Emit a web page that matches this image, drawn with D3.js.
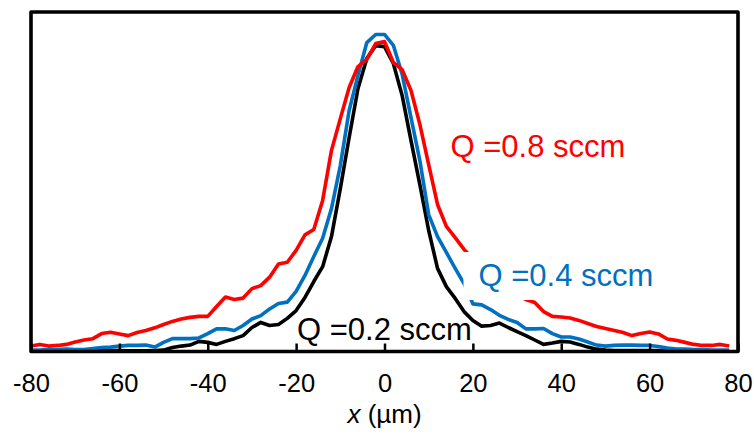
<!DOCTYPE html>
<html>
<head>
<meta charset="utf-8">
<script src="https://cdn.jsdelivr.net/npm/d3@7"></script>
<style>
  html, body { margin: 0; padding: 0; background: #fff; }
  svg { display: block; font-family: "Liberation Sans", Arial, sans-serif; }
</style>
</head>
<body>
<svg id="chart" width="754" height="434"></svg>
<script>
// ---- data ----
const xPositions = [-80,-78,-76,-74,-72,-70,-68,-66,-64,-62,-60,-58,-56,-54,-52,-50,-48,-46,-44,-42,
  -40,-38,-36,-34,-32,-30,-28,-26,-24,-22,-20,-18,-16,-14,-12,-10,-8,-6,-4,-2,
  0,2,4,6,8,10,12,14,16,18,20,22,24,26,28,30,32,34,36,38,
  40,42,44,46,48,50,52,54,56,58,60,62,64,66,68,70,72,74,76,78];

const q08 = [1.6,2.1,1.6,1.8,2.1,2.8,3.4,3.8,5.3,5.7,5.2,4.7,5.6,6.2,7.0,8.0,8.9,9.6,10.1,10.4,
  10.4,13.3,16.1,15.4,15.8,18.6,19.5,22.0,25.9,26.4,29.9,34.5,36.1,44.7,59.5,68.9,78.1,84.3,86.4,91.1,
  91.7,85.5,83.4,77.2,67.2,55.3,43.5,37.0,33.7,30.2,27.5,24.6,22.2,20.1,18.0,16.6,15.4,14.5,11.8,10.4,
  10.2,9.9,9.2,8.3,7.4,6.8,6.2,5.6,4.7,5.3,5.8,5.2,3.7,3.3,2.7,2.1,1.8,1.8,2.1,1.6];

const q04 = [0.4,0.4,0.6,0.6,0.7,0.6,0.6,0.9,1.2,1.3,1.6,1.8,1.8,1.9,1.3,2.7,3.8,3.8,3.8,4.0,
  5.3,6.7,6.7,6.2,7.7,9.6,10.6,12.6,14.2,14.6,17.8,22.5,28.1,33.5,42.3,55.0,71.3,81.7,91.4,93.8,
  93.8,90.6,82.0,69.2,56.5,40.5,34.0,29.3,24.6,20.1,14.1,13.8,12.4,10.7,9.5,8.6,6.7,6.7,6.8,5.3,
  4.3,4.3,3.7,2.8,1.9,1.6,1.8,1.9,1.9,1.8,1.8,1.5,1.0,0.7,0.7,0.6,0.6,0.4,0.4,0.4];

const q02 = [0.2,0.2,0.2,0.2,0.2,0.2,0.3,0.3,0.3,0.3,0.3,0.2,0.2,0.2,0.3,0.4,1.2,1.6,1.9,3.0,
  2.7,2.1,3.0,3.8,4.7,7.1,8.6,7.7,8.0,9.8,12.1,16.0,20.7,25.1,34.0,48.2,63.3,77.8,86.7,90.5,
  90.2,85.2,75.7,62.4,49.4,35.8,24.6,19.2,15.7,11.8,9.2,7.5,7.7,8.4,7.1,5.9,4.7,3.4,2.1,2.5,
  3.0,2.8,2.1,1.3,0.7,0.4,0.3,0.3,0.3,0.3,0.3,0.3,0.2,0.2,0.2,0.2,0.2,0.2,0.2,0.2];

const seriesNames = ["Q =0.2 sccm", "Q =0.4 sccm", "Q =0.8 sccm"];
const seriesValues = [q02, q04, q08];
const seriesColors = ["#000000", "#0070C0", "#FF0000"];
const xTickValues = [-80, -60, -40, -20, 0, 20, 40, 60, 80];
const xAxisTitleItalic = "x";
const xAxisTitleRest = " (µm)";

// ---- drawing ----
const svg = d3.select("#chart");
svg.append("rect").attr("width", 754).attr("height", 434).attr("fill", "#fff");

const plotL = 31, plotR = 738, plotT = 12, plotB = 351.5;
const x = d3.scaleLinear().domain([-80, 80]).range([plotL, plotR]);
const y = d3.scaleLinear().domain([0, 100]).range([plotB, plotB - 338]);

// lines (black first, red on top)
const line = d3.line().x(d => x(d[0])).y(d => y(d[1]));
const linesG = svg.append("g");
seriesValues.forEach((vals, i) => {
  linesG.append("path")
    .datum(xPositions.map((xv, j) => [xv, vals[j]]))
    .attr("fill", "none")
    .attr("stroke", seriesColors[i])
    .attr("stroke-width", 3.6)
    .attr("stroke-linejoin", "round")
    .attr("d", line);
});

// series labels (the 0.4 label sits in a white-filled text box)
const labelPos = [[-19.8, 3.4], [21.27, 19.38], [14.94, 57.54]];
seriesNames.forEach((name, i) => {
  const g = svg.append("g");
  const t = g.append("text")
    .attr("x", x(labelPos[i][0]))
    .attr("y", y(labelPos[i][1]))
    .attr("fill", seriesColors[i])
    .attr("font-size", 31)
    .text(name);
  if (i === 1) {
    const bb = t.node().getBBox();
    g.insert("rect", "text")
      .attr("x", bb.x - 15).attr("y", bb.y - 6)
      .attr("width", bb.width + 30).attr("height", bb.height + 13)
      .attr("fill", "#fff");
  }
});

// frame
svg.append("rect")
  .attr("x", plotL).attr("y", plotT)
  .attr("width", plotR - plotL).attr("height", plotB - plotT)
  .attr("fill", "none").attr("stroke", "#000").attr("stroke-width", 3.6)
  .attr("stroke-linejoin", "round");

// x axis (ticks pointing inward)
const xAxis = d3.axisBottom(x).tickValues(xTickValues)
  .tickSizeInner(-8).tickSizeOuter(0).tickPadding(22.5)
  .tickFormat(d3.format("d"));
const ax = svg.append("g").attr("transform", `translate(0,${plotB})`).call(xAxis);
ax.select(".domain").remove();
ax.selectAll(".tick line").attr("stroke", "#000").attr("stroke-width", 2.5);
ax.selectAll(".tick text").attr("fill", "#000").attr("font-size", 25.5)
  .attr("font-family", "'Liberation Sans', Arial, sans-serif")
  .text(d => d < 0 ? "-" + Math.abs(d) : String(d));

// axis title
const title = svg.append("text")
  .attr("x", (plotL + plotR) / 2).attr("y", 423)
  .attr("text-anchor", "middle").attr("font-size", 26).attr("fill", "#000");
title.append("tspan").attr("font-style", "italic").text(xAxisTitleItalic);
title.append("tspan").text(xAxisTitleRest);
</script>
</body>
</html>
